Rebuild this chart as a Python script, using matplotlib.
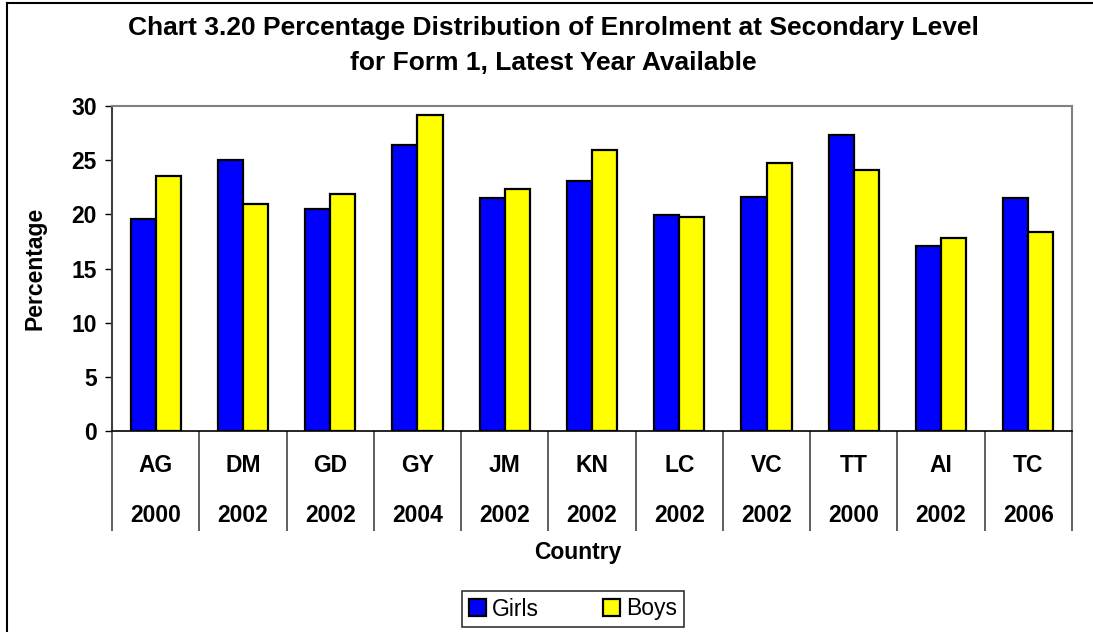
import matplotlib
matplotlib.use('Agg')
import matplotlib.pyplot as plt
import matplotlib.transforms as mtransforms
from matplotlib.lines import Line2D
import numpy as np

plt.rcParams['font.family'] = ['Liberation Sans', 'DejaVu Sans']

countries = ['AG', 'DM', 'GD', 'GY', 'JM', 'KN', 'LC', 'VC', 'TT', 'AI', 'TC']
years = ['2000', '2002', '2002', '2004', '2002', '2002', '2002', '2002', '2000', '2002', '2006']
girls = [19.6, 25.0, 20.5, 26.4, 21.5, 23.1, 19.9, 21.6, 27.3, 17.05, 21.5]
boys = [23.5, 21.0, 21.9, 29.2, 22.3, 25.9, 19.75, 24.7, 24.1, 17.85, 18.4]

W, H = 1093, 632
fig = plt.figure(figsize=(W / 100, H / 100), dpi=100)
ax = fig.add_axes([112 / W, 1 - 431 / H, (1072 - 112) / W, (431 - 106) / H])

x = np.arange(len(countries))
bw = 0.287
ax.bar(x - bw / 2, girls, bw, color='#0000ff', edgecolor='black', linewidth=1.6, label='Girls', zorder=3)
ax.bar(x + bw / 2, boys, bw, color='#ffff00', edgecolor='black', linewidth=1.6, label='Boys', zorder=3)

ax.set_xlim(-0.5, len(countries) - 0.5)
ax.set_ylim(0, 30)
ax.set_yticks(range(0, 31, 5))
ax.tick_params(axis='y', direction='out', length=5, width=1, pad=6, labelsize=16.5)
for t in ax.get_yticklabels():
    t.set_fontweight('bold')

# category separators hanging below the x axis
ax.set_xticks([])
ax.set_xticks(np.arange(-0.5, len(countries)), minor=True)
ax.tick_params(axis='x', which='minor', direction='out', length=72, width=1.2,
               color='#444444', labelbottom=False)

trans = mtransforms.blended_transform_factory(ax.transData, ax.transAxes)
for i, (c, yr) in enumerate(zip(countries, years)):
    ax.text(i, -35 / 325, c, transform=trans, ha='center', va='center',
            fontsize=16.5, fontweight='bold')
    ax.text(i, -84 / 325, yr, transform=trans, ha='center', va='center',
            fontsize=16.5, fontweight='bold')

for s in ['top', 'right']:
    ax.spines[s].set_color('#808080')
    ax.spines[s].set_linewidth(1.5)
ax.spines['left'].set_color('#404040')
ax.spines['left'].set_linewidth(1.5)
ax.spines['bottom'].set_color('black')
ax.spines['bottom'].set_linewidth(1.2)

fig.text(35 / W, 1 - 268 / H, 'Percentage', rotation=90, ha='center', va='center',
         fontsize=16.5, fontweight='bold')
fig.text(578 / W, 1 - 553 / H, 'Country', ha='center', va='center',
         fontsize=16.5, fontweight='bold')

fig.text(553 / W, 1 - 28 / H,
         'Chart 3.20 Percentage Distribution of Enrolment at Secondary Level',
         ha='center', va='center', fontsize=19, fontweight='bold')
fig.text(553 / W, 1 - 63 / H, 'for Form 1, Latest Year Available',
         ha='center', va='center', fontsize=19, fontweight='bold')

# legend box
leg = fig.legend(loc='center', bbox_to_anchor=(573 / W, 1 - 609 / H), ncol=2,
                 fontsize=16.5, frameon=True, fancybox=False, edgecolor='black',
                 handlelength=0.75, handleheight=0.75, handletextpad=0.25,
                 columnspacing=2.8, borderpad=0.3)
leg.get_frame().set_linewidth(1.2)

# outer chart border (left and top)
fig.add_artist(Line2D([7 / W, 7 / W], [0, 1 - 3 / H], transform=fig.transFigure, color='black', lw=1.5))
fig.add_artist(Line2D([7 / W, 1], [1 - 3 / H, 1 - 3 / H], transform=fig.transFigure, color='black', lw=1.5))

fig.savefig('out.png', dpi=100)
